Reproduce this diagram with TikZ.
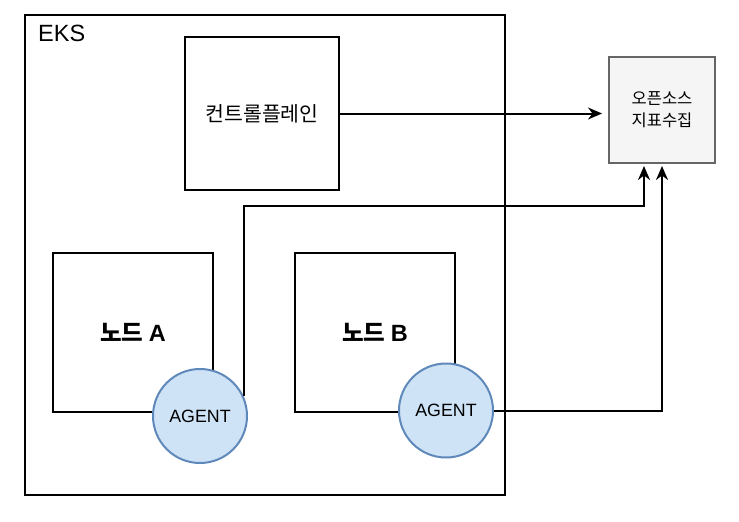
\documentclass[tikz,border=0pt]{standalone}
\usepackage{fontspec}
\setmainfont{Liberation Sans}
\newfontfamily\kr{Noto Sans CJK KR}
\usetikzlibrary{arrows.meta}
\definecolor{agfill}{HTML}{CFE3F7}
\definecolor{agdraw}{HTML}{5F89BA}
\definecolor{osfill}{HTML}{F5F5F5}
\definecolor{osdraw}{HTML}{666666}
\tikzset{
  box/.style={draw=black, line width=2pt, fill=white, inner sep=0pt},
  nodetxt/.style={font=\kr\bfseries\fontsize{23.5}{28}\selectfont},
  agent/.style={circle, draw=agdraw, line width=2pt, fill=agfill, minimum size=94pt, inner sep=0pt, font=\fontsize{17.8}{21}\selectfont},
  conn/.style={line width=2pt, -{Stealth[length=14pt,width=12pt,inset=4.5pt]}},
}
\begin{document}
\begin{tikzpicture}[x=1pt,y=-1pt]
\useasboundingbox (0,0) rectangle (739,522);
\fill[white] (0,0) rectangle (739,522);
% EKS cluster
\node[box, minimum width=480pt, minimum height=480pt] (eks) at (265,255) {};
\node[anchor=base west, inner sep=0pt, font=\fontsize{23.5}{28}\selectfont] (ekslbl) at (38,41) {EKS};
% control plane
\node[box, minimum width=154pt, minimum height=153pt, font=\kr\fontsize{20.5}{25}\selectfont] (cp) at (262,113.5) {컨트롤플레인};
% open source metrics
\node[draw=osdraw, fill=osfill, line width=2pt, minimum width=106pt, minimum height=106pt, inner sep=0pt, align=center, font=\kr\fontsize{16.5}{22}\selectfont] (os) at (662,110) {오픈소스\\ 지표수집};
% nodes
\node[box, minimum width=160pt, minimum height=159pt, nodetxt] (na) at (133,332.5) {노드 {\rmfamily A}};
\node[box, minimum width=160pt, minimum height=159pt, nodetxt] (nb) at (375,332.5) {노드 {\rmfamily B}};
% agents
\node[agent] (aga) at (200,416) {AGENT};
\node[agent] (agb) at (446,410.5) {AGENT};
% connectors
\coordinate (osa) at ([xshift=-18pt]os.south);
\draw[conn, shorten >=6pt] (cp.east) -- (cp.east -| os.west);
\draw[conn, shorten >=2pt] (aga.24) |- (243,206) -| (osa);
\draw[conn, shorten >=2pt] (agb.east) -| (os.south);
\end{tikzpicture}
\end{document}
